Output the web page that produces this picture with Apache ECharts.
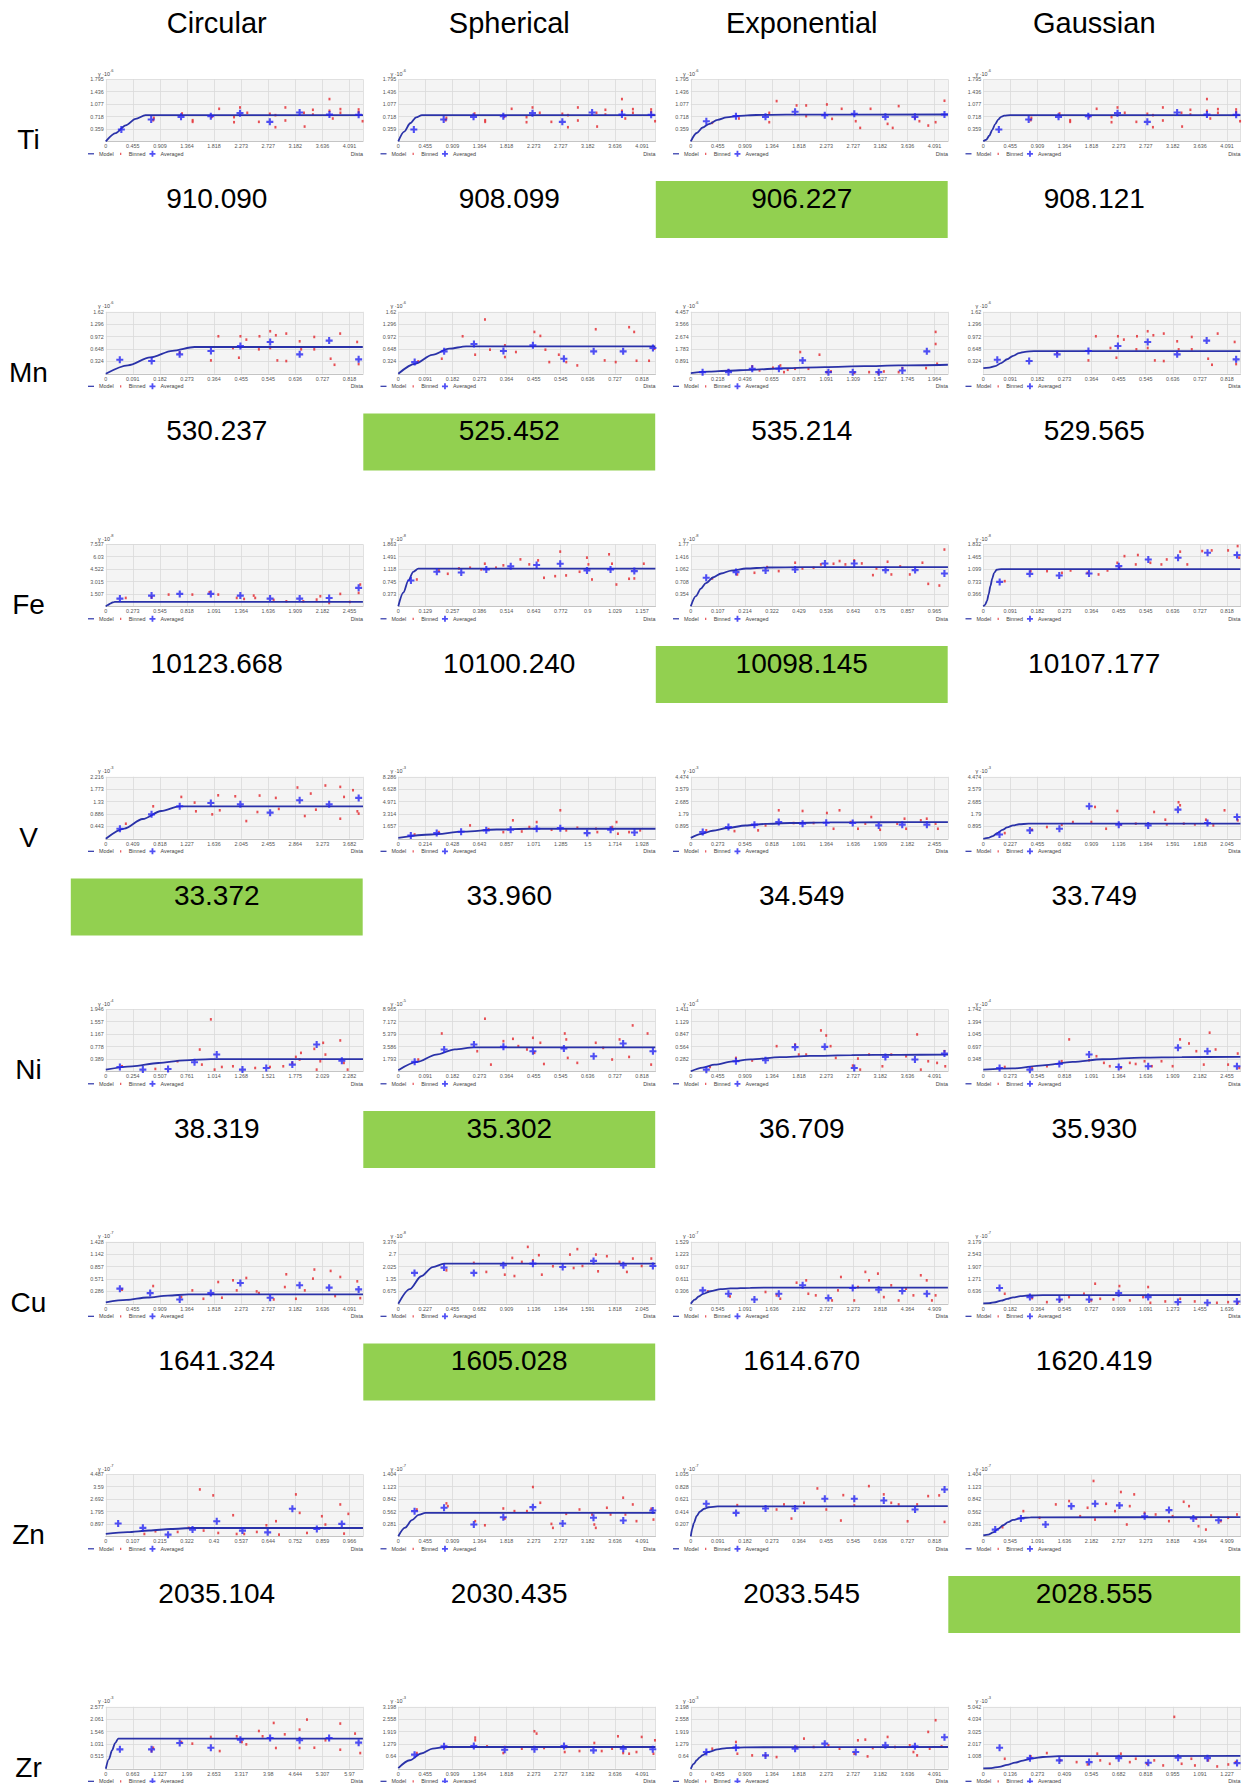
<!DOCTYPE html>
<html>
<head>
<meta charset="utf-8">
<script src="https://cdn.jsdelivr.net/npm/echarts@6/dist/echarts.min.js"></script>
<style>
html,body{margin:0;padding:0;background:#fff;}
#main{width:1245px;height:1783px;}
</style>
</head>
<body>
<div id="main"></div>
<script>
// ---------- labels ----------
const elements = ['Ti', 'Mn', 'Fe', 'V', 'Ni', 'Cu', 'Zn', 'Zr'];
const models = ['Circular', 'Spherical', 'Exponential', 'Gaussian'];

// prediction scores per element / model (Zr row lies below the page)
const scores = [
  [910.090, 908.099, 906.227, 908.121],
  [530.237, 525.452, 535.214, 529.565],
  [10123.668, 10100.240, 10098.145, 10107.177],
  [33.372, 33.960, 34.549, 33.749],
  [38.319, 35.302, 36.709, 35.930],
  [1641.324, 1605.028, 1614.670, 1620.419],
  [2035.104, 2030.435, 2033.545, 2028.555],
  []
];

// lag (x tick) steps
const xSteps = [
  [0.4545454545, 0.4545454545, 0.4545454545, 0.4545454545],
  [0.0909090909, 0.0909090909, 0.2181818182, 0.0909090909],
  [0.2727272727, 0.12859, 0.10718, 0.0909090909],
  [0.4090909091, 0.21424, 0.2727272727, 0.2272727273],
  [0.25358, 0.0909090909, 0.4545454545, 0.2727272727],
  [0.4545454545, 0.2272727273, 0.5454545455, 0.1818181818],
  [0.10738, 0.4545454545, 0.0909090909, 0.5454545455],
  [0.66336, 0.4545454545, 0.4545454545, 0.1363636364]
];
// semivariance (y tick) steps
const ySteps = [
  [0.359, 0.359, 0.359, 0.359],
  [0.324, 0.324, 0.8914, 0.324],
  [1.5074, 0.37265, 0.354, 0.36635],
  [0.4432, 1.65712, 0.89486, 0.89486],
  [0.38914, 1.793, 0.2822, 0.3484],
  [0.2856, 0.67512, 0.30572, 0.63572],
  [0.8974, 0.2808, 0.207, 0.2808],
  [0.51535, 0.6396, 0.6396, 1.0084]
];
// power of ten of the semivariance axis
const yExps = [
  [-6, -6, -6, -6],
  [-6, -6, -6, -6],
  [-8, -8, -8, -8],
  [-3, -3, -3, -3],
  [-4, -5, -4, -4],
  [-7, -8, -7, -7],
  [-7, -7, -7, -7],
  [-3, -3, -3, -3]
];

// ---------- Ti ----------
const tiBinned = [[0.807,0.679],[0.796,0.611],[1.280,0.805],[1.458,0.611],[1.458,0.563],[1.780,0.708],[1.903,0.941],[2.153,0.699],[2.153,0.553],[2.253,0.980],[2.375,0.825],[2.570,0.563],[2.754,0.796],[2.848,0.757],[2.848,0.408],[3.015,0.980],[3.015,0.602],[3.327,0.825],[3.338,0.427],[3.477,0.912],[3.477,0.776],[3.755,1.223],[3.755,0.883],[3.811,0.660],[3.939,0.932],[3.939,0.825],[4.245,0.922],[4.245,0.844],[4.311,0.582]];
const tiAveraged = [[0.261,0.340],[0.762,0.631],[1.263,0.708],[1.763,0.728],[2.253,0.815],[2.754,0.563],[3.254,0.834],[3.755,0.776],[4.245,0.767]];
const tiExpBinned = [[0.36,0.534],[0.808,0.660],[1.317,0.825],[1.317,0.553],[1.441,1.164],[1.776,1.038],[1.937,1.038],[1.937,0.728],[2.285,1.067],[2.372,0.650],[2.533,0.941],[2.769,0.582],[2.844,0.388],[3.018,0.941],[3.304,0.505],[3.39,0.388],[3.49,1.019],[3.763,0.679],[3.838,0.582],[3.987,0.456],[4.11,0.553],[4.259,1.174]];
const tiExpAveraged = [[0.261,0.582],[0.758,0.728],[1.254,0.708],[1.751,0.854],[2.249,0.757],[2.745,0.796],[3.267,0.708],[3.763,0.708],[4.259,0.776]];
const tiCircModel = [[0,0],[0.167,0.238],[0.334,0.461],[0.501,0.648],[0.668,0.757],[4.318,0.757]];
const tiSphModel = [[0,0],[0.1,0.281],[0.2,0.522],[0.3,0.695],[0.397,0.757],[4.318,0.757]];
const tiExpModel = [[0,0],[0.1,0.24],[0.2,0.4],[0.3,0.5],[0.45,0.62],[0.6,0.69],[0.8,0.735],[1.1,0.762],[1.6,0.773],[4.318,0.776]];
const tiGauModel = [[0,0],[0.05,0.045],[0.1,0.16],[0.15,0.33],[0.2,0.5],[0.25,0.63],[0.3,0.71],[0.35,0.745],[0.45,0.757],[4.318,0.757]];

// ---------- Mn ----------
const mnBinned = [[0.248,0.552],[0.353,0.350],[0.378,0.981],[0.427,0.674],[0.447,0.420],[0.452,0.981],[0.472,0.893],[0.514,0.639],[0.516,0.981],[0.552,1.112],[0.552,0.674],[0.571,1.007],[0.576,0.350],[0.606,1.051],[0.606,0.333],[0.651,0.849],[0.656,0.639],[0.700,0.963],[0.700,0.639],[0.755,0.394],[0.768,0.236],[0.787,1.051],[0.844,0.832],[0.849,0.254]];
const mnAveraged = [[0.047,0.368],[0.154,0.333],[0.248,0.508],[0.353,0.595],[0.452,0.727],[0.552,0.832],[0.651,0.508],[0.750,0.867],[0.849,0.377]];
const mnSphBinned = [[0.067,0.324],[0.146,0.394],[0.216,0.981],[0.258,0.499],[0.291,1.419],[0.308,0.630],[0.358,0.744],[0.358,0.438],[0.395,0.569],[0.457,1.094],[0.477,0.990],[0.494,0.630],[0.507,0.306],[0.539,0.499],[0.564,0.306],[0.601,0.219],[0.663,1.164],[0.693,0.350],[0.730,0.306],[0.775,1.218],[0.792,1.094],[0.800,0.341],[0.842,0.341],[0.860,0.657]];
const mnSphAveraged = [[0.055,0.306],[0.154,0.587],[0.254,0.779],[0.353,0.595],[0.452,0.744],[0.556,0.394],[0.656,0.587],[0.755,0.587],[0.855,0.674]];
const mnExpBinned = [[0.304,0.241],[0.495,0.530],[0.554,0.241],[0.662,0.434],[0.722,0.602],[0.751,0.120],[0.781,0.289],[0.840,0.361],[0.882,1.565],[0.948,0.361],[1.037,1.373],[1.097,0.120],[1.130,0.169],[1.318,0.072],[1.437,0.120],[1.510,0.072],[1.556,0.169],[1.675,0.120],[1.705,0.409],[1.896,0.409],[1.973,3.011],[1.973,2.143],[1.985,0.722]];
const mnExpAveraged = [[0.095,0.120],[0.304,0.120],[0.495,0.361],[0.710,0.361],[0.901,0.963],[1.109,0.120],[1.305,0.120],[1.515,0.120],[1.705,0.241],[1.902,1.613]];
const mnCircModel = [[0,0],[0.0745,0.221],[0.149,0.427],[0.2235,0.6],[0.298,0.70],[0.863,0.70]];
const mnSphModel = [[0,0],[0.057,0.263],[0.114,0.494],[0.171,0.656],[0.228,0.718],[0.863,0.718]];
const mnExpModel = [[0,0.05],[0.15,0.15],[0.3,0.22],[0.483,0.289],[0.75,0.40],[1.079,0.482],[1.4,0.55],[1.675,0.602],[2.072,0.650]];
const mnGauModel = [[0,0.149],[0.02,0.16],[0.04,0.2],[0.06,0.28],[0.08,0.38],[0.1,0.47],[0.12,0.54],[0.14,0.575],[0.17,0.592],[0.863,0.595]];

// ---------- Fe ----------
const feCircBinned = [[0.201,1.018],[0.461,1.100],[0.633,1.425],[0.872,1.425],[1.044,1.711],[1.133,1.425],[1.319,1.018],[1.393,0.896],[1.490,1.303],[1.505,1.018],[1.691,0.774],[1.819,0.611],[1.990,0.611],[2.124,0.815],[2.161,1.222],[2.250,0.407],[2.362,1.507],[2.459,0.530],[2.563,2.648],[2.547,1.629]];
const feCircAveraged = [[0.142,0.937],[0.461,1.303],[0.745,1.507],[1.058,1.507],[1.355,1.303],[1.655,0.937],[1.953,0.937],[2.250,1.018],[2.547,2.240]];
const feSphBinned = [[0.088,0.806],[0.193,1.079],[0.235,0.977],[0.288,1.138],[0.341,1.160],[0.394,1.109],[0.411,1.280],[0.464,1.160],[0.499,1.231],[0.580,1.410],[0.622,1.260],[0.664,1.380],[0.692,0.857],[0.745,0.906],[0.769,1.644],[0.797,0.928],[0.861,1.038],[0.896,1.462],[0.903,1.260],[0.920,0.806],[1.001,1.562],[1.015,1.280],[1.036,0.655],[1.096,0.827],[1.121,0.837],[1.166,1.280]];
const feSphAveraged = [[0.060,0.776],[0.183,1.038],[0.299,1.018],[0.418,1.109],[0.534,1.200],[0.657,1.240],[0.769,1.280],[0.896,1.079],[1.008,1.109],[1.121,1.058]];
const feExpBinned = [[0.085,0.794],[0.184,0.909],[0.252,0.957],[0.302,1.119],[0.348,1.005],[0.413,1.244],[0.442,1.081],[0.486,1.100],[0.515,1.196],[0.565,1.215],[0.589,1.292],[0.612,1.196],[0.647,1.311],[0.677,1.224],[0.721,0.890],[0.735,1.081],[0.779,1.272],[0.794,0.909],[0.829,1.139],[0.867,0.909],[0.917,1.244],[0.940,0.641],[0.984,0.593],[1.004,1.62]];
const feExpAveraged = [[0.061,0.813],[0.179,0.976],[0.296,1.024],[0.413,1.052],[0.531,1.224],[0.647,1.224],[0.771,1.033],[0.888,1.033],[1.004,0.937]];
const feGauBinned = [[0.072,0.743],[0.159,1.039],[0.214,1.039],[0.264,0.988],[0.293,1.058],[0.350,0.988],[0.387,0.941],[0.417,1.058],[0.450,1.285],[0.457,1.138],[0.474,1.482],[0.512,1.237],[0.519,1.515],[0.561,1.285],[0.598,1.237],[0.616,1.384],[0.661,1.614],[0.685,1.237],[0.735,1.632],[0.767,1.651],[0.822,1.651],[0.854,1.779],[0.859,1.435]];
const feGauAveraged = [[0.055,0.721],[0.156,0.959],[0.255,0.911],[0.355,0.970],[0.455,1.186],[0.554,1.384],[0.654,1.435],[0.753,1.581],[0.852,1.515]];
const feCircModel = [[0,0],[0.022,0.17],[0.045,0.33],[0.067,0.46],[0.09,0.53],[2.59,0.53]];
const feSphModel = [[0,0],[0.024,0.415],[0.048,0.777],[0.071,1.035],[0.095,1.13],[1.221,1.13]];
const feExpModel = [[0,0],[0.02,0.29],[0.04,0.505],[0.06,0.664],[0.09,0.83],[0.12,0.937],[0.16,1.02],[0.22,1.079],[0.3,1.108],[0.45,1.119],[1.018,1.12]];
const feGauModel = [[0,0],[0.006,0.04],[0.012,0.15],[0.018,0.35],[0.024,0.6],[0.03,0.82],[0.036,0.98],[0.045,1.08],[0.06,1.1],[0.863,1.1]];

// ---------- V ----------
const vCircBinned = [[0.303,0.539],[0.716,1.161],[1.141,1.497],[1.342,1.294],[1.362,0.983],[1.608,0.874],[1.698,1.555],[1.722,1.019],[1.956,1.520],[2.123,0.634],[2.291,0.957],[2.324,1.546],[2.569,1.462],[2.614,1.068],[2.896,1.834],[3.007,0.815],[3.097,1.617],[3.175,1.041],[3.318,1.905],[3.543,1.856],[3.543,0.718],[3.600,1.497],[3.735,1.737],[3.801,0.983],[3.821,0.899]];
const vCircAveraged = [[0.213,0.359],[0.691,0.874],[1.117,1.161],[1.587,1.281],[2.033,1.232],[2.483,0.935],[2.929,1.377],[3.375,1.232],[3.821,1.462]];
const vSphBinned = [[0.129,0.580],[0.321,0.895],[0.568,1.790],[0.714,1.292],[0.831,0.895],[0.907,2.469],[0.977,0.978],[1.037,1.574],[1.095,2.237],[1.213,1.210],[1.282,3.811],[1.329,1.127],[1.417,1.475],[1.564,1.342],[1.575,0.895],[1.693,1.574],[1.727,2.237],[1.738,0.679],[1.826,0.895],[1.914,1.127]];
const vSphAveraged = [[0.099,0.447],[0.304,0.762],[0.497,0.944],[0.696,1.127],[0.889,1.210],[1.095,1.342],[1.282,1.425],[1.494,0.762],[1.680,1.210],[1.869,0.845]];
const vExpBinned = [[0.156,0.608],[0.440,0.555],[0.678,0.608],[0.753,0.967],[0.886,2.057],[1.036,1.137],[1.126,2.007],[1.237,1.137],[1.371,1.862],[1.438,0.726],[1.498,2.057],[1.610,1.208],[1.684,0.726],[1.758,1.092],[1.818,1.572],[1.907,0.653],[2.079,1.092],[2.153,1.451],[2.169,0.726],[2.317,1.330],[2.377,1.451],[2.466,1.092],[2.489,0.726]];
const vExpAveraged = [[0.120,0.483],[0.379,0.850],[0.641,1.020],[0.886,1.208],[1.126,1.092],[1.364,1.163],[1.631,1.137],[1.893,0.967],[2.130,1.020],[2.378,1.020]];
const vGauBinned = [[0.180,0.412],[0.409,0.653],[0.534,0.850],[0.659,1.020],[0.752,1.208],[0.938,2.298],[0.907,1.208],[1.031,0.726],[1.125,2.007],[1.155,1.040],[1.280,1.092],[1.434,1.935],[1.528,1.379],[1.540,1.040],[1.639,2.638],[1.652,2.418],[1.683,1.092],[1.776,1.040],[1.869,1.379],[1.931,0.967],[2.025,2.057],[2.136,1.330]];
const vGauAveraged = [[0.136,0.313],[0.391,0.608],[0.639,0.725],[0.889,2.345],[1.137,1.020],[1.384,0.967],[1.634,2.103],[1.882,1.137],[2.130,1.575]];
const vCircModel = [[0,0],[0.279,0.365],[0.558,0.707],[0.838,0.994],[1.117,1.161],[3.886,1.161]];
const vSphModel = [[0,0.13],[0.259,0.575],[0.519,0.962],[0.778,1.24],[1.037,1.342],[2.035,1.342]];
const vExpModel = [[0,0.07],[0.11,0.36],[0.22,0.58],[0.37,0.78],[0.55,0.96],[0.75,1.07],[1.0,1.14],[1.4,1.18],[1.9,1.195],[2.59,1.2]];
const vGauModel = [[0,0],[0.04,0.06],[0.08,0.2],[0.12,0.42],[0.16,0.64],[0.2,0.82],[0.25,0.97],[0.3,1.05],[0.38,1.088],[2.159,1.092]];

// ---------- Ni ----------
const niCircBinned = [[0.152,0.158],[0.464,0.074],[0.672,0.315],[0.880,0.683],[0.900,0.210],[0.984,1.630],[1.019,0.053],[1.087,0.136],[1.191,0.158],[1.399,0.105],[1.538,0.136],[1.662,0.158],[1.746,0.263],[1.780,0.452],[1.815,0.368],[1.828,0.578],[1.953,0.704],[2.009,0.315],[2.036,0.894],[2.057,0.525],[1.975,0.053],[2.196,0.968],[2.230,0.263],[2.265,0.053]];
const niCircAveraged = [[0.132,0.136],[0.347,0.053],[0.583,0.074],[0.831,0.284],[1.039,0.525],[1.280,0.053],[1.503,0.105],[1.747,0.210],[1.975,0.840],[2.211,0.335]];
const niSphBinned = [[0.067,1.703],[0.146,5.469],[0.265,2.905],[0.291,7.602],[0.311,0.968],[0.353,4.357],[0.385,4.698],[0.403,3.640],[0.432,3.156],[0.452,4.841],[0.457,2.672],[0.477,4.124],[0.489,1.058],[0.559,5.469],[0.564,4.608],[0.569,1.936],[0.601,1.219],[0.663,4.124],[0.688,3.389],[0.718,1.703],[0.743,4.608],[0.775,2.080],[0.787,6.634],[0.837,5.469],[0.849,0.968]];
const niSphAveraged = [[0.055,1.363],[0.154,3.156],[0.254,3.873],[0.353,3.532],[0.452,2.905],[0.556,3.299],[0.656,2.187],[0.755,4.016],[0.855,2.905]];
const niExpBinned = [[0.323,0.099],[0.758,0.305],[1.030,0.244],[1.441,0.572],[1.751,0.610],[1.813,0.381],[1.937,0.381],[2.185,0.930],[2.273,0.815],[2.347,0.572],[2.434,0.305],[2.719,0.130],[2.806,0.290],[2.844,0.038],[2.993,0.381],[3.217,0.114],[3.366,0.381],[3.614,0.343],[3.800,0.839],[3.862,0.038],[3.986,0.229],[4.135,0.191],[4.259,0.457],[4.272,0.114]];
const niExpAveraged = [[0.261,0.038],[0.758,0.229],[1.254,0.251],[1.751,0.550],[2.249,0.556],[2.745,0.076],[3.267,0.328],[3.763,0.267],[4.259,0.404]];
const niGauBinned = [[0.216,0.122],[0.492,0.094],[0.641,0.143],[0.790,0.283],[0.865,0.896],[1.066,0.311],[1.140,0.424],[1.215,0.237],[1.274,0.143],[1.386,0.094],[1.476,0.237],[1.535,0.206],[1.624,0.283],[1.698,0.143],[1.795,0.283],[1.907,0.143],[1.982,0.896],[2.072,0.782],[2.146,0.565],[2.221,0.188],[2.280,1.085],[2.340,0.613],[2.466,0.188],[2.563,0.499],[2.578,0.094]];
const niGauAveraged = [[0.164,0.094],[0.469,0.047],[0.766,0.206],[1.066,0.471],[1.364,0.122],[1.661,0.143],[1.961,0.660],[2.258,0.565],[2.555,0.143]];
const niCircModel = [[0,0.05],[0.246,0.155],[0.492,0.26],[0.738,0.345],[0.984,0.385],[2.409,0.385]];
const niSphModel = [[0,0.14],[0.0635,1.35],[0.127,2.42],[0.19,3.17],[0.254,3.45],[0.863,3.45]];
const niExpModel = [[0,0],[0.2,0.085],[0.4,0.15],[0.7,0.224],[1.0,0.271],[1.5,0.322],[2.0,0.35],[2.7,0.368],[3.5,0.376],[4.318,0.379]];
const niGauModel = [[0,0.045],[0.3,0.081],[0.6,0.169],[0.9,0.265],[1.2,0.338],[1.6,0.387],[2.0,0.4],[2.59,0.405]];

// ---------- Cu ----------
const cuCircBinned = [[0.273,0.325],[0.795,0.409],[1.268,0.155],[1.453,0.309],[1.639,0.116],[1.887,0.502],[1.950,0.140],[2.136,0.541],[2.198,0.309],[2.359,0.595],[2.533,0.286],[2.571,0.246],[2.820,0.100],[3.006,0.386],[3.030,0.680],[3.192,0.116],[3.341,0.309],[3.478,0.580],[3.502,0.789],[3.775,0.757],[3.850,0.178],[3.937,0.618],[4.222,0.518],[4.272,0.131]];
const cuCircAveraged = [[0.236,0.349],[0.745,0.246],[1.241,0.100],[1.763,0.246],[2.259,0.480],[2.759,0.140],[3.254,0.426],[3.750,0.372],[4.245,0.332]];
const cuSphBinned = [[0.404,1.823],[0.634,2.228],[0.739,1.735],[0.894,1.586],[0.957,2.498],[0.975,1.512],[1.037,2.282],[1.087,3.098],[1.130,2.369],[1.180,2.646],[1.205,1.586],[1.298,2.045],[1.441,2.680],[1.472,1.951],[1.503,2.977],[1.546,2.059],[1.659,2.680],[1.677,1.769],[1.751,2.592],[1.857,2.282],[1.919,1.735],[1.969,2.464],[2.043,2.059],[2.124,2.464]];
const cuSphAveraged = [[0.136,1.681],[0.384,1.971],[0.634,1.681],[0.882,2.099],[1.130,2.187],[1.380,2.005],[1.639,2.336],[1.889,2.099],[2.137,2.059]];
const cuExpBinned = [[0.343,0.306],[0.790,0.181],[1.505,0.291],[1.729,0.208],[1.803,0.125],[2.131,0.521],[2.325,0.578],[2.368,0.248],[2.518,0.208],[2.846,0.083],[2.965,0.331],[3.025,0.661],[3.293,0.083],[3.368,0.413],[3.517,0.786],[3.591,0.578],[3.770,0.744],[3.889,0.165],[4.038,0.456],[4.187,0.083],[4.336,0.372],[4.485,0.208],[4.634,0.703],[4.753,0.578],[4.858,0.083],[4.932,0.208]];
const cuExpAveraged = [[0.240,0.331],[0.758,0.248],[1.282,0.107],[1.773,0.248],[2.253,0.456],[2.771,0.141],[3.262,0.389],[3.785,0.349],[4.260,0.315],[4.756,0.248]];
const cuGauBinned = [[0.144,0.515],[0.328,0.292],[0.427,0.086],[0.516,0.172],[0.576,0.343],[0.676,0.515],[0.725,0.172],[0.751,1.030],[0.785,0.258],[0.874,0.223],[0.914,0.909],[0.984,0.172],[1.073,0.343],[1.107,0.859],[1.122,0.051],[1.222,0.121],[1.322,0.258],[1.420,0.121],[1.569,0.051],[1.644,0.086],[1.709,0.051]];
const cuGauAveraged = [[0.109,0.808],[0.313,0.343],[0.511,0.223],[0.711,0.223],[0.909,0.547],[1.107,0.343],[1.307,0.086],[1.505,0.051],[1.703,0.121]];
const cuCircModel = [[0,0.035],[0.348,0.09],[0.695,0.145],[1.043,0.19],[1.39,0.216],[4.318,0.216]];
const cuSphModel = [[0,0],[0.096,0.80],[0.192,1.50],[0.289,2.0],[0.385,2.19],[2.159,2.19]];
const cuExpModel = [[0,0],[0.08,0.104],[0.16,0.18],[0.25,0.245],[0.4,0.31],[0.6,0.36],[0.8,0.38],[1.2,0.395],[2,0.4],[5.18,0.4]];
const cuGauModel = [[0,0.02],[0.04,0.03],[0.08,0.08],[0.12,0.16],[0.16,0.25],[0.2,0.33],[0.25,0.39],[0.3,0.425],[0.4,0.445],[1.727,0.45]];

// ---------- Zn ----------
const znCircBinned = [[0.153,0.170],[0.197,0.364],[0.285,0.315],[0.329,0.610],[0.373,3.391],[0.388,0.413],[0.426,2.960],[0.446,0.242],[0.505,1.525],[0.519,0.170],[0.549,0.170],[0.599,0.315],[0.637,0.798],[0.675,1.094],[0.687,0.121],[0.754,3.032],[0.769,1.695],[0.798,0.242],[0.857,1.453],[0.871,0.852],[0.930,2.305],[0.945,0.194],[0.962,1.624]];
const znCircAveraged = [[0.049,0.924],[0.147,0.610],[0.247,0.121],[0.344,0.484],[0.440,1.094],[0.542,0.413],[0.642,0.287],[0.740,1.991],[0.837,0.529],[0.936,0.897]];
const znSphBinned = [[0.311,0.607],[0.808,0.745],[0.832,0.683],[1.291,0.343],[1.454,0.250],[1.763,0.630],[1.788,0.402],[1.950,0.570],[2.160,0.570],[2.260,1.116],[2.384,0.759],[2.571,0.281],[2.596,0.191],[2.819,0.509],[3.042,0.607],[3.253,0.494],[3.291,0.267],[3.316,0.191],[3.502,0.646],[3.564,0.494],[3.775,0.874],[3.813,0.494],[3.937,0.721],[3.999,0.343],[4.247,0.623],[4.284,0.379]];
const znSphAveraged = [[0.273,0.570],[0.768,0.646],[1.268,0.267],[1.763,0.433],[2.259,0.660],[2.759,0.289],[3.277,0.419],[3.777,0.357],[4.272,0.584]];
const znExpBinned = [[0.156,0.520],[0.288,0.447],[0.313,0.532],[0.338,0.296],[0.380,0.559],[0.425,0.799],[0.455,0.447],[0.504,0.263],[0.512,0.687],[0.549,0.515],[0.598,0.838],[0.648,0.700],[0.673,0.559],[0.698,0.532],[0.728,0.251],[0.760,0.532],[0.797,0.671],[0.834,0.683],[0.852,0.240]];
const znExpAveraged = [[0.052,0.543],[0.152,0.391],[0.251,0.464],[0.350,0.464],[0.450,0.627],[0.549,0.627],[0.648,0.598],[0.753,0.447],[0.852,0.782]];
const znGauBinned = [[0.387,0.205],[0.807,0.570],[1.133,0.419],[1.461,0.722],[1.729,0.798],[1.952,0.455],[2.101,0.646],[2.221,1.253],[2.251,0.379],[2.474,0.736],[2.653,0.570],[2.772,1.003],[2.891,0.267],[2.951,0.683],[3.040,0.949],[3.249,0.531],[3.472,0.494],[3.740,0.343],[3.814,0.455],[4.037,0.782],[4.145,0.683],[4.292,0.402],[4.336,0.228],[4.485,0.152],[4.590,0.471],[4.784,0.343],[4.933,0.419],[5.111,0.494]];
const znGauAveraged = [[0.240,0.152],[0.758,0.402],[1.254,0.267],[1.773,0.683],[2.253,0.736],[2.743,0.700],[3.251,0.455],[3.741,0.593],[4.232,0.402],[4.740,0.365]];
const znCircModel = [[0,0.17],[0.086,0.30],[0.172,0.42],[0.258,0.53],[0.344,0.60],[1.02,0.60]];
const znSphModel = [[0,0],[0.114,0.195],[0.228,0.365],[0.341,0.487],[0.455,0.531],[4.318,0.531]];
const znExpModel = [[0,0],[0.005,0.13],[0.01,0.22],[0.02,0.34],[0.03,0.41],[0.045,0.46],[0.06,0.485],[0.09,0.5],[0.863,0.503]];
const znGauModel = [[0,0.02],[0.1,0.04],[0.2,0.09],[0.3,0.17],[0.4,0.25],[0.5,0.32],[0.6,0.37],[0.75,0.41],[0.95,0.43],[5.18,0.433]];

// ---------- Zr ----------
const zrCircBinned = [[1.161,0.876],[1.121,0.737],[1.851,1.113],[2.120,1.046],[2.573,1.324],[2.791,0.737],[3.208,1.350],[3.335,1.113],[3.443,1.015],[3.751,1.571],[3.842,1.350],[4.114,1.906],[4.168,0.865],[4.385,1.432],[4.748,1.628],[4.748,0.865],[4.929,2.045],[5.110,0.876],[5.382,1.185],[5.745,1.880],[5.745,0.793],[6.107,1.463],[6.234,0.654]];
const zrCircAveraged = [[0.345,0.808],[1.121,0.808],[1.811,1.071],[2.574,0.876],[3.297,1.210],[4.026,1.282],[4.749,1.185],[5.472,1.282],[6.195,1.087]];
const zrSphBinned = [[0.311,0.813],[0.795,1.124],[1.291,1.609],[1.291,1.470],[1.490,1.158],[1.763,0.813],[1.788,1.124],[2.074,1.038],[2.285,1.937],[2.322,1.816],[2.447,1.072],[2.794,0.865],[2.819,1.124],[3.042,0.916],[3.291,1.332],[3.415,0.916],[3.589,1.038],[3.688,1.678],[3.775,0.813],[3.875,0.778],[3.999,0.865],[4.086,1.643],[4.284,0.778],[4.309,1.470]];
const zrSphAveraged = [[0.273,0.730],[0.768,1.158],[1.268,1.176],[1.786,0.986],[2.286,1.005],[2.782,1.176],[3.277,0.951],[3.777,1.038],[4.272,1.005]];
const zrExpBinned = [[0.360,1.038],[0.758,1.384],[0.782,0.778],[1.030,0.692],[1.254,0.675],[1.440,0.605],[1.776,1.124],[1.900,1.557],[2.062,1.124],[2.311,1.211],[2.497,1.038],[2.745,0.778],[2.806,1.470],[2.930,1.505],[2.968,0.640],[3.055,1.072],[3.304,1.643],[3.428,1.124],[3.676,1.211],[3.738,0.865],[3.800,0.692],[3.986,1.903],[4.011,1.038],[4.110,2.507],[4.210,1.158]];
const zrExpAveraged = [[0.261,0.865],[0.758,1.090],[1.254,0.692],[1.751,1.038],[2.249,1.297],[2.769,0.865],[3.267,1.211],[3.763,1.158],[4.259,1.626]];
const zrGauBinned = [[0.108,0.817],[0.239,1.008],[0.320,1.280],[0.388,0.685],[0.470,0.544],[0.525,0.353],[0.574,1.230],[0.589,0.685],[0.637,0.409],[0.693,1.230],[0.738,0.544],[0.768,0.817],[0.824,0.409],[0.861,0.685],[0.906,0.272],[0.962,4.224],[0.999,0.409],[1.048,0.817],[1.066,0.272],[1.133,0.685],[1.178,0.191],[1.234,0.353],[1.271,0.544]];
const zrGauAveraged = [[0.082,1.714],[0.235,0.867],[0.383,0.685],[0.533,0.544],[0.682,0.867],[0.831,0.494],[0.981,0.897],[1.129,0.867],[1.278,0.464]];
const zrCircModel = [[0,0],[0.076,0.40],[0.152,0.76],[0.229,1.07],[0.305,1.252],[6.30,1.252]];
const zrSphModel = [[0,0.03],[0.192,0.44],[0.385,0.79],[0.577,1.04],[0.77,1.124],[4.318,1.124]];
const zrExpModel = [[0,0],[0.05,0.25],[0.1,0.44],[0.15,0.59],[0.2,0.71],[0.3,0.87],[0.45,1.0],[0.6,1.07],[0.9,1.11],[4.318,1.124]];
const zrGauModel = [[0,0.03],[0.04,0.06],[0.08,0.16],[0.12,0.32],[0.16,0.5],[0.2,0.67],[0.25,0.85],[0.3,0.96],[0.38,1.03],[1.295,1.05]];

// ---------- which series goes into which panel ----------
const binnedSets = [
  [tiBinned, tiBinned, tiExpBinned, tiBinned],
  [mnBinned, mnSphBinned, mnExpBinned, mnBinned],
  [feCircBinned, feSphBinned, feExpBinned, feGauBinned],
  [vCircBinned, vSphBinned, vExpBinned, vGauBinned],
  [niCircBinned, niSphBinned, niExpBinned, niGauBinned],
  [cuCircBinned, cuSphBinned, cuExpBinned, cuGauBinned],
  [znCircBinned, znSphBinned, znExpBinned, znGauBinned],
  [zrCircBinned, zrSphBinned, zrExpBinned, zrGauBinned]
];
const averagedSets = [
  [tiAveraged, tiAveraged, tiExpAveraged, tiAveraged],
  [mnAveraged, mnSphAveraged, mnExpAveraged, mnAveraged],
  [feCircAveraged, feSphAveraged, feExpAveraged, feGauAveraged],
  [vCircAveraged, vSphAveraged, vExpAveraged, vGauAveraged],
  [niCircAveraged, niSphAveraged, niExpAveraged, niGauAveraged],
  [cuCircAveraged, cuSphAveraged, cuExpAveraged, cuGauAveraged],
  [znCircAveraged, znSphAveraged, znExpAveraged, znGauAveraged],
  [zrCircAveraged, zrSphAveraged, zrExpAveraged, zrGauAveraged]
];
const modelSets = [
  [tiCircModel, tiSphModel, tiExpModel, tiGauModel],
  [mnCircModel, mnSphModel, mnExpModel, mnGauModel],
  [feCircModel, feSphModel, feExpModel, feGauModel],
  [vCircModel, vSphModel, vExpModel, vGauModel],
  [niCircModel, niSphModel, niExpModel, niGauModel],
  [cuCircModel, cuSphModel, cuExpModel, cuGauModel],
  [znCircModel, znSphModel, znExpModel, znGauModel],
  [zrCircModel, zrSphModel, zrExpModel, zrGauModel]
];

// ---------- layout ----------
const FONT = '"Liberation Sans", Arial, Helvetica, sans-serif';
const CELL_X0 = 70.5, CELL_W = 292.5, ROW_H = 232.5;
const LAG_SPAN = 9.5;           // x extent in lag steps
const Y_SPAN = 5;               // y extent in tick steps
const SMALL = 5.4;              // tiny axis font
const MODEL_COLOR = '#2a32a8', BINNED_COLOR = '#e3262c', AVG_COLOR = '#2424f2';
const CROSS = 'path://M3.5,0H6.5V3.5H10V6.5H6.5V10H3.5V6.5H0V3.5H3.5Z';

function tickFormatter(step, hideZero) {
  return function (v) {
    const k = v / step;
    if (Math.abs(k - Math.round(k)) > 1e-3) return '';
    if (Math.round(k) === 0) return hideZero ? '' : '0';
    return String(parseFloat(v.toFixed(3)));
  };
}

const grids = [], xAxes = [], yAxes = [], series = [], legends = [], graphics = [];

elements.forEach((el, r) => {
  const baseY = r * ROW_H;
  // element name on the left
  graphics.push({
    type: 'text', x: 28.5, y: 139.5 + baseY,
    style: { text: el, font: '28px ' + FONT, fill: '#000', align: 'center', verticalAlign: 'middle' }
  });
  const rowScores = scores[r];
  const best = rowScores.length ? rowScores.indexOf(Math.min.apply(null, rowScores)) : -1;

  models.forEach((m, c) => {
    const i = r * 4 + c;
    const cellX = CELL_X0 + c * CELL_W;
    const xs = xSteps[r][c], ys = ySteps[r][c];

    grids.push({
      left: cellX + 35.3, top: 79.3 + baseY, width: 257.2, height: 62,
      show: true, backgroundColor: '#f4f4f4', borderWidth: 0,
      containLabel: false, outerBoundsMode: 'none'
    });
    xAxes.push({
      type: 'value', gridIndex: i, min: 0, max: xs * LAG_SPAN, interval: xs,
      axisLine: { show: true, lineStyle: { color: '#bdbdbd', width: 0.8 } },
      axisTick: { show: false },
      splitLine: { show: true, lineStyle: { color: '#d9d9d9', width: 0.8 } },
      axisLabel: { fontSize: SMALL, color: '#555', fontFamily: FONT, margin: 2.5,
        formatter: tickFormatter(xs, false), hideOverlap: false }
    });
    yAxes.push({
      type: 'value', gridIndex: i, min: 0, max: ys * Y_SPAN, interval: ys,
      name: '{a|γ ·10}{s|' + yExps[r][c] + '}',
      nameLocation: 'end', nameGap: 3,
      nameTextStyle: {
        fontFamily: FONT, color: '#444', align: 'center',
        rich: {
          a: { fontSize: SMALL, fontFamily: FONT, color: '#444', lineHeight: 8, verticalAlign: 'bottom' },
          s: { fontSize: 4, fontFamily: FONT, color: '#444', lineHeight: 8, verticalAlign: 'top' }
        }
      },
      axisLine: { show: false },
      axisTick: { show: false },
      splitLine: { show: true, lineStyle: { color: '#d9d9d9', width: 0.8 } },
      axisLabel: { fontSize: SMALL, color: '#555', fontFamily: FONT, margin: 2,
        formatter: tickFormatter(ys, true), hideOverlap: false }
    });

    series.push({
      type: 'line', name: 'Model', xAxisIndex: i, yAxisIndex: i,
      data: modelSets[r][c], symbol: 'none', showSymbol: false,
      smooth: 0.3, smoothMonotone: 'x',
      color: MODEL_COLOR, lineStyle: { color: MODEL_COLOR, width: 1.8 },
      silent: true, z: 3
    });
    series.push({
      type: 'scatter', name: 'Binned', xAxisIndex: i, yAxisIndex: i,
      data: binnedSets[r][c], symbol: 'rect', symbolSize: [2, 2.6],
      color: BINNED_COLOR, itemStyle: { color: BINNED_COLOR },
      silent: true, z: 2
    });
    series.push({
      type: 'scatter', name: 'Averaged', xAxisIndex: i, yAxisIndex: i,
      data: averagedSets[r][c], symbol: CROSS, symbolSize: 7,
      color: AVG_COLOR, itemStyle: { color: AVG_COLOR },
      silent: true, z: 4
    });

    legends.push({
      left: cellX + 17.5, top: 150.8 + baseY, orient: 'horizontal', padding: 0,
      itemGap: 4, itemWidth: 6, itemHeight: 6, selectedMode: false,
      textStyle: { fontSize: SMALL, color: '#444', fontFamily: FONT },
      data: [
        { name: 'Model', icon: 'path://M0,0M0,4H10V6H0ZM10,10' },
        { name: 'Binned', icon: 'path://M0,0M4,3.2H6V6.8H4ZM10,10' },
        { name: 'Averaged', icon: CROSS }
      ]
    });
    // axis caption at the lower right corner of each panel
    graphics.push({
      type: 'text', x: cellX + 292.5, y: 153.8 + baseY,
      style: { text: 'Dista', font: SMALL + 'px ' + FONT, fill: '#444', align: 'right', verticalAlign: 'middle' }
    });

    if (r === 0) {
      graphics.push({
        type: 'text', x: cellX + CELL_W / 2, y: 23,
        style: { text: m, font: '29px ' + FONT, fill: '#000', align: 'center', verticalAlign: 'middle' }
      });
    }
    if (rowScores.length) {
      if (c === best) {
        graphics.push({
          type: 'rect', shape: { x: cellX + 0.3, y: 181 + baseY, width: CELL_W - 0.6, height: 57 },
          style: { fill: '#92d050' }, z: 0
        });
      }
      graphics.push({
        type: 'text', x: cellX + CELL_W / 2, y: 198.3 + baseY, z: 1,
        style: { text: rowScores[c].toFixed(3), font: '28px ' + FONT, fill: '#000', align: 'center', verticalAlign: 'middle' }
      });
    }
  });
});

const chart = echarts.init(document.getElementById('main'), null, { renderer: 'svg' });
chart.setOption({
  animation: false,
  backgroundColor: '#ffffff',
  textStyle: { fontFamily: FONT },
  grid: grids,
  xAxis: xAxes,
  yAxis: yAxes,
  legend: legends,
  series: series,
  graphic: { elements: graphics }
});
</script>
</body>
</html>
